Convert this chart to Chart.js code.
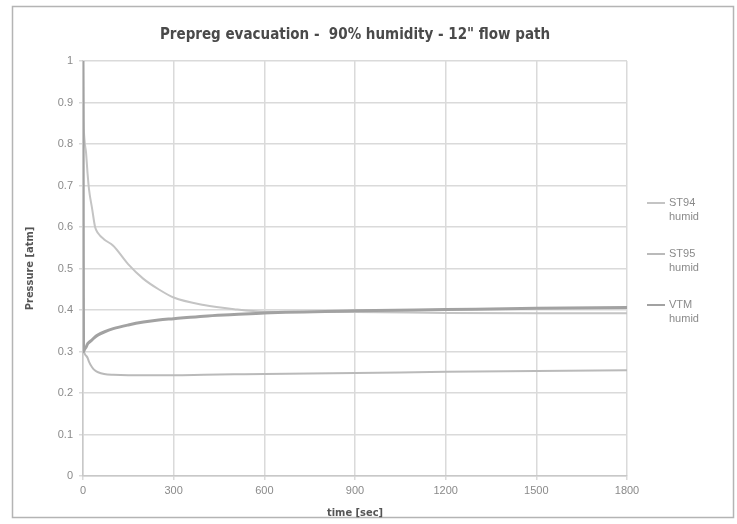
<!DOCTYPE html>
<html>
<head>
<meta charset="utf-8">
<script src="https://cdn.jsdelivr.net/npm/chart.js@4/dist/chart.umd.min.js"></script>
<style>
  html, body { margin: 0; padding: 0; background: #fff; }
  #wrap { position: relative; width: 737px; height: 524px; }
  canvas { position: absolute; left: 0; top: 0; }
</style>
</head>
<body>
<div id="wrap"><canvas id="chart" width="737" height="524"></canvas></div>
<script>
// ---- data ----
const chartTitle = 'Prepreg evacuation -  90% humidity - 12" flow path';
const seriesNames = ['ST94 humid', 'ST95 humid', 'VTM humid'];
const times = [0, 2, 5, 10, 15, 20, 30, 40, 50, 70, 100, 150, 200, 250, 300, 400, 500, 600, 900, 1200, 1500, 1800];
const st94 = [1.0, 0.86, 0.81, 0.78, 0.73, 0.69, 0.645, 0.60, 0.585, 0.57, 0.555, 0.51, 0.475, 0.45, 0.43, 0.412, 0.402, 0.396, 0.395, 0.393, 0.392, 0.392];
const st95 = [0.30, 0.30, 0.295, 0.29, 0.285, 0.275, 0.262, 0.254, 0.25, 0.246, 0.244, 0.243, 0.243, 0.243, 0.243, 0.244, 0.245, 0.246, 0.248, 0.251, 0.253, 0.255];
const vtm  = [1.0, 0.30, 0.305, 0.31, 0.318, 0.322, 0.328, 0.335, 0.34, 0.347, 0.355, 0.364, 0.371, 0.376, 0.379, 0.385, 0.389, 0.393, 0.398, 0.401, 0.404, 0.406];
const xTicks = [0, 300, 600, 900, 1200, 1500, 1800];

const seriesColors = ['#c4c4c4', '#bababa', '#a2a2a2'];
const seriesWidths = [2, 2, 3];

const toPoints = vals => vals.map((v, i) => ({ x: times[i], y: v }));

// ---- frame, title and two-line legend ----
const decorPlugin = {
  id: 'decor',
  beforeDraw(chart) {
    const c = chart.ctx;
    c.save();
    c.fillStyle = '#fff';
    c.fillRect(0, 0, chart.width, chart.height);
    c.strokeStyle = '#b4b4b4';
    c.lineWidth = 1.5;
    c.strokeRect(12.5, 6.5, 721, 511);
    c.restore();
  },
  afterDraw(chart) {
    const c = chart.ctx;
    const area = chart.chartArea;
    c.save();
    c.fillStyle = '#4a4a4a';
    c.font = 'bold 15px "DejaVu Sans Condensed", "Liberation Sans", Arial, sans-serif';
    c.textAlign = 'center';
    c.textBaseline = 'middle';
    c.fillText(chartTitle, (area.left + area.right) / 2, 35);

    c.font = '11px "Liberation Sans", Arial, sans-serif';
    c.textAlign = 'left';
    chart.data.datasets.forEach((ds, i) => {
      const y = 203 + 51 * i;
      c.strokeStyle = ds.borderColor;
      c.lineWidth = 2;
      c.beginPath();
      c.moveTo(647, y);
      c.lineTo(665, y);
      c.stroke();
      c.fillStyle = '#8a8a8a';
      ds.label.split(' ').forEach((part, j) => c.fillText(part, 669, y + j * 14));
    });
    c.restore();
  }
};

new Chart(document.getElementById('chart'), {
  type: 'line',
  data: {
    datasets: [
      { label: seriesNames[0], data: toPoints(st94), order: 1 },
      { label: seriesNames[1], data: toPoints(st95), order: 2 },
      { label: seriesNames[2], data: toPoints(vtm), order: 0 }
    ].map((ds, i) => ({
      ...ds,
      borderColor: seriesColors[i],
      backgroundColor: seriesColors[i],
      borderWidth: seriesWidths[i],
      pointRadius: 0,
      cubicInterpolationMode: 'monotone',
      fill: false
    }))
  },
  options: {
    responsive: false,
    animation: false,
    devicePixelRatio: 1,
    layout: { padding: { top: 61, left: 20, right: 110, bottom: 0 } },
    plugins: {
      legend: { display: false },
      title: { display: false },
      tooltip: { enabled: false }
    },
    scales: {
      x: {
        type: 'linear',
        min: 0,
        max: 1800,
        afterFit: s => { s.height = 48; },
        afterBuildTicks: s => { s.ticks = xTicks.map(v => ({ value: v })); },
        grid: { color: '#dadada', lineWidth: 1.5, tickLength: 4 },
        border: { color: '#c8c8c8', width: 1.5 },
        ticks: { color: '#8a8a8a', font: { family: 'Liberation Sans, Arial', size: 11 }, padding: 4, maxRotation: 0, callback: v => String(v) },
        title: { display: true, text: 'time [sec]', color: '#555', font: { family: 'DejaVu Sans Condensed, Liberation Sans, Arial', size: 11, weight: 'bold' }, padding: { top: 0 } }
      },
      y: {
        min: 0,
        max: 1,
        afterFit: s => { s.width = 63; },
        grid: { color: '#dadada', lineWidth: 1.5, tickLength: 4 },
        border: { color: '#c8c8c8', width: 1.5 },
        ticks: { stepSize: 0.1, color: '#8a8a8a', font: { family: 'Liberation Sans, Arial', size: 11 }, padding: 6, callback: v => String(Number(v.toFixed(1))) },
        title: { display: true, text: 'Pressure [atm]', color: '#555', font: { family: 'DejaVu Sans Condensed, Liberation Sans, Arial', size: 11, weight: 'bold' }, padding: { bottom: 4 } }
      }
    }
  },
  plugins: [decorPlugin]
});
</script>
</body>
</html>
